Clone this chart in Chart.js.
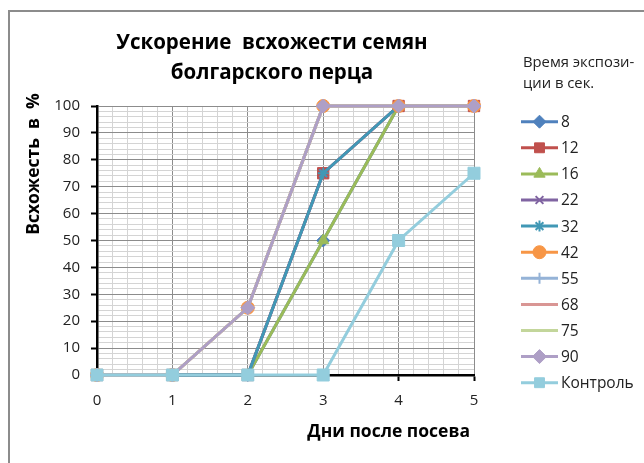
<!DOCTYPE html>
<html>
<head>
<meta charset="utf-8">
<script src="https://cdn.jsdelivr.net/npm/chart.js@4.4.1/dist/chart.umd.min.js"></script>
<style>
  html, body { margin: 0; padding: 0; background: #ffffff; }
  #wrap { width: 644px; height: 463px; position: relative; }
</style>
</head>
<body>
<div id="wrap"><canvas id="c" width="644" height="463"></canvas></div>
<script>
// Germination of bell pepper seeds by day after sowing, per exposure time (sec.)
const days = [0, 1, 2, 3, 4, 5];
const seriesNames = ['8', '12', '16', '22', '32', '42', '55', '68', '75', '90', 'Контроль'];

const s8       = [0, 0, 0, 50, 100, 100];
const s12      = [0, 0, 0, 75, 100, 100];
const s16      = [0, 0, 0, 50, 100, 100];
const s22      = [0, 0, 0, 75, 100, 100];
const s32      = [0, 0, 0, 75, 100, 100];
const s42      = [0, 0, 25, 100, 100, 100];
const s55      = [0, 0, 25, 100, 100, 100];
const s68      = [0, 0, 25, 100, 100, 100];
const s75      = [0, 0, 25, 100, 100, 100];
const s90      = [0, 0, 25, 100, 100, 100];
const sControl = [0, 0, 0, 0, 50, 75];
const seriesValues = [s8, s12, s16, s22, s32, s42, s55, s68, s75, s90, sControl];

const xTickLabels = ['0', '1', '2', '3', '4', '5'];
const yTickLabels = ['0', '10', '20', '30', '40', '50', '60', '70', '80', '90', '100'];

const titleLines = ['Ускорение  всхожести семян', 'болгарского перца'];
const yTitle = 'Всхожесть  в  %';
const xTitle = 'Дни после посева';
const legendTitle = ['Время экспози-', 'ции в сек.'];

// series styling
const colors = ['#4F81BD', '#C0504D', '#9BBB59', '#8064A2', '#4198B5', '#F79646',
                '#95B3D7', '#D99694', '#C3D69B', '#AE9FC6', '#93CDDD'];
const markers = ['rectRot', 'rect', 'triangle', 'crossRot', 'star', 'circle',
                 'cross', 'line', 'line', 'rectRot', 'rect'];
const markerRadius = [6.5, 8, 6.5, 5.5, 5.5, 6.5, 5.5, 5, 5, 7, 8.5];

const FONT = "'Open Sans', 'DejaVu Sans', sans-serif";

const datasets = seriesNames.map((name, i) => ({
  label: name,
  data: seriesValues[i],
  borderColor: colors[i],
  backgroundColor: colors[i],
  pointBackgroundColor: colors[i],
  pointBorderColor: colors[i],
  pointStyle: markers[i],
  pointRadius: markerRadius[i],
  pointBorderWidth: (markers[i] === 'crossRot' || markers[i] === 'star' || markers[i] === 'cross' || markers[i] === 'line') ? 2 : 1,
  borderWidth: 3,
  tension: 0,
  clip: false,
  order: seriesNames.length - i   // later series are painted on top
}));

const isWhole = v => Math.abs(v - Math.round(v)) < 1e-6;

// frame, titles and the legend
const decorations = {
  id: 'decorations',
  afterDraw(chart) {
    const ctx = chart.ctx;
    ctx.save();

    // outer frame
    ctx.strokeStyle = '#8c8c8c';
    ctx.lineWidth = 2;
    ctx.strokeRect(9, 11, 700, 500);

    ctx.fillStyle = '#000000';
    ctx.textBaseline = 'middle';

    // chart title
    ctx.font = 'bold 20.5px ' + FONT;
    ctx.textAlign = 'center';
    ctx.fillText(titleLines[0], 272, 43);
    ctx.fillText(titleLines[1], 272, 73);

    // axis titles
    ctx.font = 'bold 17.5px ' + FONT;
    ctx.save();
    ctx.translate(34, 164);
    ctx.rotate(-Math.PI / 2);
    ctx.fillText(yTitle, 0, 0);
    ctx.restore();
    ctx.textAlign = 'right';
    ctx.fillText(xTitle, 470, 432);

    // legend
    ctx.textAlign = 'left';
    ctx.fillStyle = '#222222';
    ctx.font = '14.8px ' + FONT;
    ctx.fillText(legendTitle[0], 523, 63);
    ctx.fillText(legendTitle[1], 523, 84);

    ctx.font = '15.5px ' + FONT;
    chart.data.datasets.forEach((ds, i) => {
      const y = 121.7 + i * 26.1;
      ctx.strokeStyle = ds.borderColor;
      ctx.lineWidth = 3;
      ctx.beginPath();
      ctx.moveTo(521, y);
      ctx.lineTo(558, y);
      ctx.stroke();
      ctx.fillStyle = ds.pointBackgroundColor;
      ctx.strokeStyle = ds.pointBorderColor;
      ctx.lineWidth = ds.pointBorderWidth;
      if (ds.pointStyle !== 'line') {
        Chart.helpers.drawPoint(ctx, {
          pointStyle: ds.pointStyle,
          radius: Math.min(ds.pointRadius, 7),
          rotation: 0,
          borderWidth: ds.pointBorderWidth
        }, 539.5, y);
      }
      ctx.fillStyle = '#222222';
      ctx.fillText(ds.label, 561, y + 1);
    });
    ctx.restore();
  }
};

new Chart(document.getElementById('c'), {
  type: 'line',
  data: { labels: days, datasets },
  options: {
    responsive: false,
    animation: false,
    devicePixelRatio: 1,
    layout: { padding: { left: 20, right: 170, top: 106, bottom: 10 } },
    plugins: {
      legend: { display: false },
      title: { display: false },
      tooltip: { enabled: false }
    },
    scales: {
      x: {
        type: 'linear',
        min: 0,
        max: 5,
        afterFit: s => { s.height = 78; },
        ticks: {
          stepSize: 0.2,
          autoSkip: false,
          maxRotation: 0,
          padding: 11,
          color: '#222222',
          font: { family: FONT, size: 15 },
          callback: v => isWhole(v) ? xTickLabels[Math.round(v)] : ''
        },
        grid: {
          color: c => isWhole(c.tick.value) ? '#8c8c8c' : '#d4d4d4',
          lineWidth: 1,
          tickLength: 6,
          tickColor: c => isWhole(c.tick.value) ? '#000000' : 'rgba(0,0,0,0)',
          tickWidth: 2
        },
        border: { color: '#000000', width: 2.5 }
      },
      y: {
        min: 0,
        max: 100,
        afterFit: s => { s.width = 77; },
        ticks: {
          stepSize: 2,
          autoSkip: false,
          padding: 11,
          color: '#222222',
          font: { family: FONT, size: 15 },
          callback: v => (Math.round(v) % 10 === 0) ? yTickLabels[Math.round(v) / 10] : ''
        },
        grid: {
          color: c => (Math.round(c.tick.value) % 10 === 0) ? '#8c8c8c' : '#d4d4d4',
          lineWidth: 1,
          tickLength: 6,
          tickColor: c => (Math.round(c.tick.value) % 10 === 0) ? '#000000' : 'rgba(0,0,0,0)',
          tickWidth: 2
        },
        border: { color: '#000000', width: 2.5 }
      }
    }
  },
  plugins: [decorations]
});
</script>
</body>
</html>
